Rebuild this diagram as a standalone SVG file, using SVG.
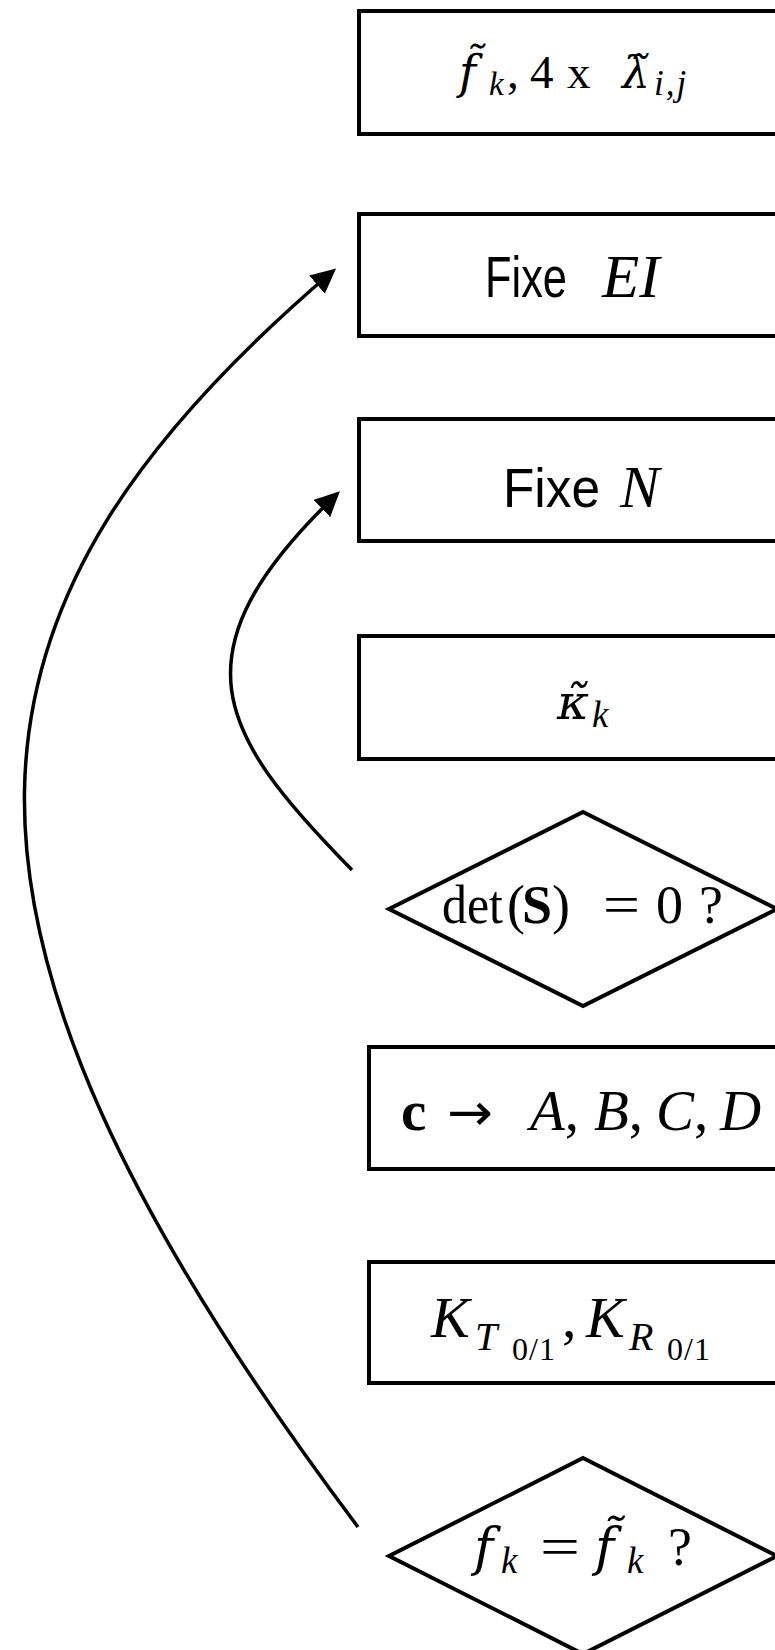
<svg xmlns="http://www.w3.org/2000/svg" width="775" height="1650" viewBox="0 0 775 1650">
<defs>
<style>
.box{fill:#fff;stroke:#000;stroke-width:4;stroke-linejoin:miter}
.conn{fill:none;stroke:#000;stroke-width:3.5}
.m{font-family:"Liberation Serif","DejaVu Serif",serif;fill:#000}
.d{font-family:"DejaVu Serif","Liberation Serif",serif}
.i{font-style:italic}
.b{font-weight:bold}
.s{font-family:"Liberation Sans",Arial,sans-serif;font-style:normal}
.ar{font-family:"DejaVu Sans",sans-serif}
</style>
<marker id="ah" markerUnits="userSpaceOnUse" markerWidth="26" markerHeight="26" viewBox="0 0 26 26" refX="21" refY="12" orient="auto">
<path d="M0,0 L25,12 L0,24 z" fill="#000"/>
</marker>
</defs>
<rect width="775" height="1650" fill="#fff"/>

<g id="connectors">
<path class="conn" d="M358,1527 C-109,905 -56,603 333,271" marker-end="url(#ah)"/>
<path class="conn" d="M352,870 C217,733 171,653 337,494" marker-end="url(#ah)"/>
</g>

<g id="node1">
<rect class="box" x="359" y="11" width="450" height="123"/>
<text class="m" font-size="47" y="88"><tspan class="d i" x="459" font-size="46">f̃</tspan><tspan class="i" x="489" y="95" font-size="33">k</tspan><tspan x="507" y="88">,</tspan> <tspan x="530">4</tspan> <tspan x="567">x</tspan> <tspan class="d i" x="622" font-size="44">λ̃</tspan><tspan class="i" x="654" y="95" font-size="35" letter-spacing="2">i,j</tspan></text>
</g>

<g id="node2">
<rect class="box" x="359" y="214" width="450" height="122"/>
<text class="m" y="297"><tspan class="s" x="485" font-size="58" textLength="82" lengthAdjust="spacingAndGlyphs">Fixe</tspan> <tspan class="i" x="602" font-size="61">EI</tspan></text>
</g>

<g id="node3">
<rect class="box" x="359" y="419" width="450" height="122"/>
<text class="m" y="507"><tspan class="s" x="503" font-size="56" textLength="97" lengthAdjust="spacingAndGlyphs">Fixe</tspan> <tspan class="i" x="620" font-size="59">N</tspan></text>
</g>

<g id="node4">
<rect class="box" x="359" y="636" width="450" height="123"/>
<text class="m i" font-size="50" y="719"><tspan class="d" x="557" font-size="49">κ̃</tspan><tspan x="592" y="727" font-size="37">k</tspan></text>
</g>

<g id="node5">
<polygon class="box" points="583,812 777,909 583,1006 389,909"/>
<text class="m" font-size="54" y="923"><tspan x="442" textLength="61" lengthAdjust="spacingAndGlyphs">det</tspan><tspan x="507">(</tspan><tspan class="b" x="522">S</tspan><tspan x="552">)</tspan> <tspan x="603" textLength="37" lengthAdjust="spacingAndGlyphs">=</tspan> <tspan x="656">0</tspan> <tspan x="699">?</tspan></text>
</g>

<g id="node6">
<rect class="box" x="369" y="1047" width="440" height="122"/>
<text class="m" font-size="57" y="1130"><tspan class="b" x="401">c</tspan> <tspan class="ar" x="447" font-size="52" textLength="46" lengthAdjust="spacingAndGlyphs">→</tspan> <tspan class="i" x="530">A</tspan>, <tspan class="i" x="594">B</tspan>, <tspan class="i" x="656">C</tspan>, <tspan class="i" x="720">D</tspan></text>
</g>

<g id="node7">
<rect class="box" x="369" y="1262" width="440" height="121"/>
<text class="m" font-size="58" y="1337"><tspan class="i" x="431">K</tspan><tspan class="i" x="475" y="1350" font-size="40">T</tspan><tspan x="512" y="1360" font-size="32" letter-spacing="1">0/1</tspan><tspan x="562" y="1337">,</tspan><tspan class="i" x="586">K</tspan><tspan class="i" x="629" y="1350" font-size="40">R</tspan><tspan x="667" y="1360" font-size="32" letter-spacing="1">0/1</tspan></text>
</g>

<g id="node8">
<polygon class="box" points="583,1458 777,1556 583,1654 389,1556"/>
<text class="m" font-size="54" y="1565"><tspan class="d i" x="474" font-size="52">f</tspan><tspan class="i" x="501" y="1573" font-size="37">k</tspan> <tspan x="540" y="1565" textLength="40" lengthAdjust="spacingAndGlyphs">=</tspan> <tspan class="d i" x="595" font-size="52">f̃</tspan><tspan class="i" x="627" y="1573" font-size="37">k</tspan> <tspan x="668" y="1565">?</tspan></text>
</g>
</svg>
